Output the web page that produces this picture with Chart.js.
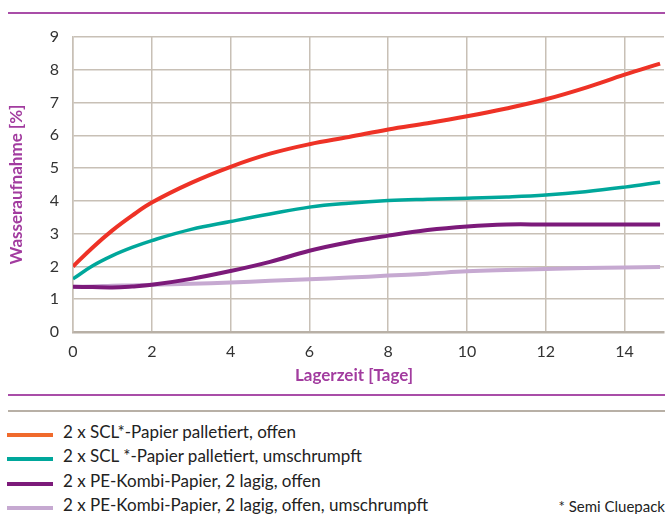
<!DOCTYPE html>
<html>
<head>
<meta charset="utf-8">
<script src="https://cdn.jsdelivr.net/npm/chart.js@4.4.1/dist/chart.umd.min.js"></script>
<style>
  body { margin: 0; background: #fff; font-family: Lato, sans-serif; }
  #wrap { position: relative; width: 665px; height: 514px; }
  #chart { position: absolute; left: 0; top: 0; }
  .rule { position: absolute; left: 8px; right: 0; height: 2px; }
  .legend { position: absolute; left: 0; font-size: 17px; color: #222; line-height: 20px; }
  .legend span.sw { position: absolute; left: 7px; top: 11px; width: 46px; height: 4px; }
  .legend span.tx { position: absolute; left: 63px; top: 0; white-space: nowrap; }
  #note { position: absolute; right: 0; top: 497px; font-size: 15px; color: #222; }
</style>
</head>
<body>
<div id="wrap">
  <div class="rule" style="top:12px;background:#a94ea8"></div>
  <canvas id="chart" width="665" height="390"></canvas>
  <div class="rule" style="top:394px;background:#a94ea8"></div>
  <div class="rule" style="top:410px;background:#b8b0a6"></div>
  <div id="legend"></div>
  <div id="note">* Semi Cluepack</div>
</div>
<script>
// Lagerzeit in Tagen
const days = [0, 0.5, 1, 1.5, 2, 3, 4, 5, 6, 7, 8, 9, 10, 11, 12, 13, 14, 14.9];
const sclOffen = [2.0, 2.58, 3.1, 3.55, 3.95, 4.55, 5.04, 5.44, 5.73, 5.95, 6.18, 6.37, 6.58, 6.82, 7.1, 7.45, 7.85, 8.19];
const sclUmschrumpft = [1.62, 2.02, 2.33, 2.58, 2.79, 3.13, 3.37, 3.6, 3.81, 3.93, 4.01, 4.05, 4.08, 4.12, 4.18, 4.28, 4.42, 4.57];
const peOffen = [1.38, 1.37, 1.36, 1.39, 1.44, 1.62, 1.86, 2.14, 2.48, 2.74, 2.94, 3.11, 3.22, 3.28, 3.28, 3.28, 3.28, 3.28];
const peUmschrumpft = [1.38, 1.39, 1.41, 1.42, 1.44, 1.47, 1.51, 1.56, 1.61, 1.66, 1.72, 1.78, 1.85, 1.89, 1.92, 1.95, 1.97, 1.98];

const xTicks = [0, 2, 4, 6, 8, 10, 12, 14];
const seriesLabels = [
  "2 x SCL*-Papier palletiert, offen",
  "2 x SCL *-Papier palletiert, umschrumpft",
  "2 x PE-Kombi-Papier, 2 lagig, offen",
  "2 x PE-Kombi-Papier, 2 lagig, offen, umschrumpft"
];
const lineColors = ["#ee3226", "#00a79b", "#7c1a7a", "#c6a9d1"];
const swatchColors = ["#f06a2c", "#00a79b", "#7c1a7a", "#c6a9d1"];

const toPoints = vals => vals.map((v, i) => ({ x: days[i], y: v }));
const allSeries = [sclOffen, sclUmschrumpft, peOffen, peUmschrumpft];
const widths = [4, 3.5, 4, 4];

const datasets = allSeries.map((vals, i) => ({
  label: seriesLabels[i],
  data: toPoints(vals),
  borderColor: lineColors[i],
  borderWidth: widths[i],
  pointRadius: 0,
  tension: 0.4,
  fill: false,
  order: i
}));

const grid = "#c8c0b6";
const tickFont = { family: "Lato", size: 16 };

new Chart(document.getElementById("chart"), {
  type: "line",
  data: { datasets },
  options: {
    responsive: false,
    animation: false,
    layout: { padding: { top: 37, right: 1, left: 0, bottom: 0 } },
    plugins: { legend: { display: false }, tooltip: { enabled: false } },
    scales: {
      x: {
        type: "linear",
        min: 0,
        max: 15,
        afterBuildTicks: axis => { axis.ticks = xTicks.map(v => ({ value: v })); },
        afterFit: axis => { axis.height = 58; },
        grid: { color: grid, lineWidth: 1.5, drawTicks: false },
        border: { color: "#b8b0a6", width: 2.5 },
        ticks: { color: "#333", font: tickFont, padding: 10, maxRotation: 0 },
        title: {
          display: true,
          // trailing spaces shift the centred title a bit to the left, as in the original
          text: "Lagerzeit [Tage]\u00a0\u00a0\u00a0\u00a0\u00a0\u00a0\u00a0",
          color: "#a23c9f",
          font: { family: "Lato", size: 17, weight: "bold" },
          padding: { top: 0, bottom: 4 }
        }
      },
      y: {
        min: 0,
        max: 9,
        afterFit: axis => { axis.width = 73; },
        grid: { color: grid, lineWidth: 1.5, drawTicks: false },
        border: { color: grid, width: 1.5 },
        ticks: { stepSize: 1, color: "#333", font: tickFont, padding: 14 },
        title: {
          display: true,
          text: "Wasseraufnahme [%]",
          color: "#a23c9f",
          font: { family: "Lato", size: 17, weight: "bold" },
          padding: { top: 6, bottom: 0 }
        }
      }
    }
  }
});

// Legende unter dem Diagramm
const legendEl = document.getElementById("legend");
const legendTops = [422, 446, 471, 495];
seriesLabels.forEach((txt, i) => {
  const row = document.createElement("div");
  row.className = "legend";
  row.style.top = legendTops[i] + "px";
  row.innerHTML = '<span class="sw" style="background:' + swatchColors[i] + '"></span><span class="tx">' + txt + '</span>';
  legendEl.appendChild(row);
});
</script>
</body>
</html>
